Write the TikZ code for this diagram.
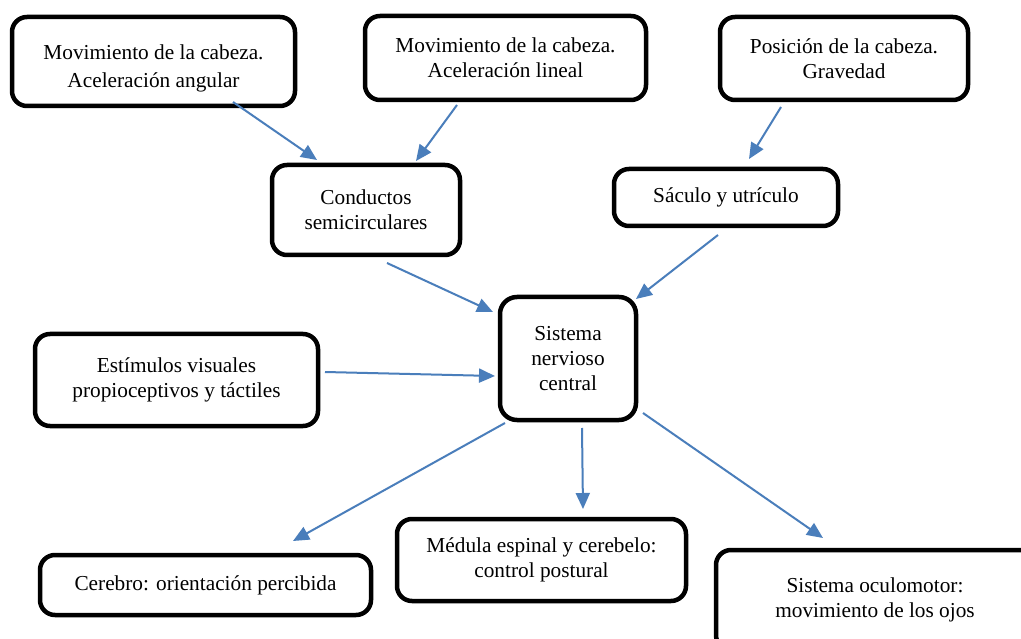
\documentclass[tikz,border=0pt]{standalone}
\usepackage{fontspec}
\setmainfont{Liberation Serif}
\usetikzlibrary{arrows.meta}
\definecolor{arrowblue}{RGB}{74,126,187}
\begin{document}
\begin{tikzpicture}[x=1pt,y=-1pt,
  box/.style={draw=black, line width=4.5pt, rounded corners=15pt, fill=white,
    align=center, inner sep=0pt, font=\fontsize{21.3}{25}\selectfont},
  conn/.style={draw=arrowblue, line width=2pt, -{Triangle[length=16pt,width=14pt]}}]
\clip (0,0) rectangle (1021,639);
\fill[white] (0,0) rectangle (1021,639);
% boxes
\node[box, minimum width=283pt, minimum height=89pt] (b1) at (153.5,61.5) {\rule{0pt}{28pt}Movimiento de la cabeza.\\[3pt]Aceleración angular};
\node[box, minimum width=281pt, minimum height=84pt] (b2) at (505.5,58) {Movimiento de la cabeza.\\Aceleración lineal};
\node[box, minimum width=248pt, minimum height=83pt] (b3) at (844,58.5) {Posición de la cabeza.\\Gravedad};
\node[box, minimum width=188pt, minimum height=90pt] (b4) at (366,210) {Conductos\\semicirculares};
\node[box, minimum width=224pt, minimum height=57pt] (b5) at (726,197.5) {Sáculo y utrículo};
\node[box, minimum width=136pt, minimum height=123pt, rounded corners=17pt] (b6) at (568,358.5) {Sistema\\nervioso\\central};
\node[box, minimum width=283pt, minimum height=92pt] (b7) at (176.5,380) {Estímulos visuales\\propioceptivos y táctiles};
\node[box, minimum width=331pt, minimum height=60pt] (b8) at (205.5,585) {Cerebro: orientación percibida};
\node[box, minimum width=289pt, minimum height=82pt] (b9) at (541.5,560) {Médula espinal y cerebelo:\\control postural};
\node[box, minimum width=318pt, minimum height=100pt] (b10) at (875,600) {Sistema oculomotor:\\movimiento de los ojos};
% connector end points
\coordinate (a1s) at (233,102); \coordinate (a1e) at (317,160);
\coordinate (a2s) at (457,105); \coordinate (a2e) at (416,161);
\coordinate (a3s) at (781,107); \coordinate (a3e) at (749,159);
\coordinate (a4s) at (387,263); \coordinate (a4e) at (493,312);
\coordinate (a5s) at (718,235); \coordinate (a5e) at (636,299);
\coordinate (a6s) at (325,372); \coordinate (a6e) at (495,376);
\coordinate (a7s) at (505,423); \coordinate (a7e) at (293,541);
\coordinate (a8s) at (582,428); \coordinate (a8e) at (583,509);
\coordinate (a9s) at (643,413); \coordinate (a9e) at (823,538);
% connectors
\draw[conn] (a1s) -- (a1e);
\draw[conn] (a2s) -- (a2e);
\draw[conn] (a3s) -- (a3e);
\draw[conn] (a4s) -- (a4e);
\draw[conn] (a5s) -- (a5e);
\draw[conn] (a6s) -- (a6e);
\draw[conn] (a7s) -- (a7e);
\draw[conn] (a8s) -- (a8e);
\draw[conn] (a9s) -- (a9e);
\end{tikzpicture}
\end{document}
